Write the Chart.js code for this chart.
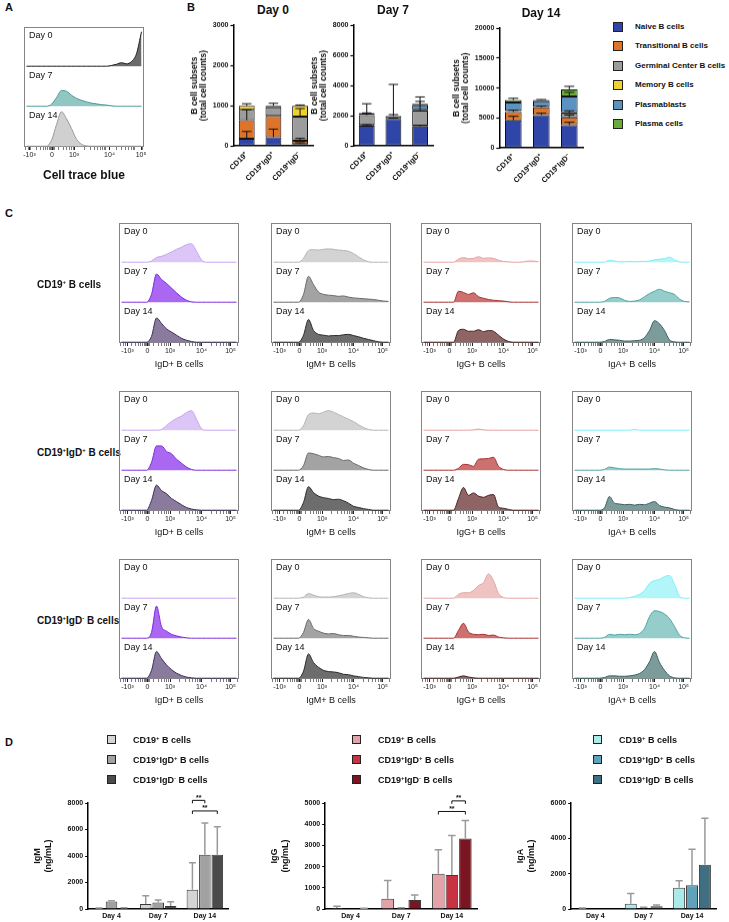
<!DOCTYPE html>
<html>
<head>
<meta charset="utf-8">
<title>B cell subsets and immunoglobulin secretion</title>
<script src="https://cdn.jsdelivr.net/npm/chart.js@4.4.1/dist/chart.umd.min.js"></script>
<style>
  body { margin: 0; background: #fff; }
  #fig { position: relative; width: 729px; height: 922px; overflow: hidden; font-family: "Liberation Sans", Arial, sans-serif; color: #111; }
  #fig canvas { position: absolute; }
  .t { position: absolute; white-space: nowrap; line-height: 1; }
  .panel { font-size: 11px; font-weight: bold; }
  .box { position: absolute; border: 1px solid #858585; box-sizing: border-box; }
  .day { font-size: 9px; }
  .mk { font-size: 9px; transform: translateX(-50%); }
  .row { font-size: 10px; font-weight: bold; transform: translateY(-50%); }
  .sw { position: absolute; width: 9px; height: 9px; border: 1px solid #222; box-sizing: border-box; }
  .lg { font-size: 9px; font-weight: bold; transform: translateY(-50%); }
  .lgb { font-size: 8px; font-weight: bold; transform: translateY(-50%); }
  .ttl { font-size: 12px; font-weight: bold; transform: translateX(-50%); }
  .big { font-size: 12px; font-weight: bold; transform: translateX(-50%); }
  sup { font-size: 6px; vertical-align: top; position: relative; top: -1px; }
</style>
</head>
<body>
<div id="fig"></div>
<script>
// ---- histogram bins and axis ticks (flow cytometry panels A and C) ----
const BINS = [0, 1, 2, 3, 4, 5, 6, 7, 8, 9, 10, 11, 12, 13, 14, 15, 16, 17, 18, 19, 20, 21, 22, 23];
const DAYS = ['Day 0', 'Day 7', 'Day 14'];
const TICK_LABELS = ['-10³', '0', '10³', '10⁴', '10⁵'];
const C_TICKS = [1.2, 5.2, 9.7, 16.0, 21.8];
const A_TICKS = [0.6, 5.1, 9.5, 16.6, 22.9];
const MINOR_TICKS = [-0.2, 0.3, 0.7, 2.0, 2.7, 3.3, 3.8, 4.2, 4.5, 4.7, 4.9, 5.4, 5.6, 6.4, 7.3, 8.0, 8.5, 8.9, 9.3,
  11.6, 12.8, 13.6, 14.2, 14.7, 15.1, 15.5, 15.8, 17.9, 19.0, 19.8, 20.4, 20.9, 21.3, 21.6, 23.2];

// panel A: cell trace blue
const TRACE_BLUE = [
  [0, 0, 0, 0, 0, 0, 0, 0, 0, 0, 0, 0, 0, 0, 0, 0, 0, 2, 5, 9, 6, 12, 32, 88],
  [0, 0, 0, 0, 0, 5, 22, 40, 38, 28, 20, 15, 11, 8, 6, 4, 3, 1, 0, 0, 0, 0, 0, 0],
  [0, 0, 0, 0, 0, 15, 55, 88, 70, 45, 18, 5, 1, 0, 0, 0, 0, 0, 0, 0, 0, 0, 0, 0]
];

// panel C, CD19+ B cells (Day 0, Day 7, Day 14)
const CD19_IgD = [
  [0, 0, 0, 0, 0, 0, 3, 12, 15, 20, 26, 33, 38, 45, 47, 28, 6, 0, 0, 0, 0, 0, 0, 0],
  [0, 0, 0, 0, 0, 0, 20, 72, 58, 48, 36, 24, 13, 5, 1, 0, 0, 0, 0, 0, 0, 0, 0, 0],
  [0, 0, 0, 0, 0, 0, 15, 62, 48, 34, 26, 18, 10, 5, 2, 0, 0, 0, 0, 0, 0, 0, 0, 0]
];
const CD19_IgM = [
  [0, 0, 0, 0, 0, 0, 10, 30, 32, 31, 33, 34, 33, 31, 30, 28, 22, 14, 6, 1, 0, 0, 0, 0],
  [0, 0, 0, 0, 0, 0, 20, 66, 45, 26, 20, 18, 17, 15, 16, 13, 11, 10, 9, 8, 7, 5, 3, 2],
  [0, 0, 0, 0, 0, 0, 18, 58, 30, 20, 18, 16, 17, 17, 19, 20, 17, 14, 10, 7, 4, 1, 0, 0]
];
const CD19_IgG = [
  [0, 0, 0, 0, 0, 0, 0, 8, 12, 9, 10, 14, 10, 11, 10, 5, 2, 1, 0, 0, 1, 3, 3, 1],
  [0, 0, 0, 0, 0, 0, 0, 28, 25, 20, 24, 14, 10, 7, 5, 4, 3, 1, 0, 0, 0, 0, 0, 0],
  [0, 0, 0, 0, 0, 0, 0, 30, 33, 28, 28, 32, 27, 30, 28, 18, 8, 2, 0, 0, 0, 0, 0, 0]
];
const CD19_IgA = [
  [0, 0, 0, 0, 0, 0, 0, 5, 3, 1, 1, 2, 1, 2, 2, 3, 6, 8, 9, 13, 6, 1, 0, 0],
  [0, 0, 0, 0, 0, 0, 2, 10, 12, 11, 5, 2, 3, 6, 14, 22, 28, 33, 28, 24, 20, 8, 2, 1],
  [0, 0, 0, 0, 0, 0, 2, 7, 6, 5, 3, 3, 4, 5, 12, 30, 55, 47, 30, 6, 1, 0, 0, 0]
];

// panel C, CD19+IgD+ B cells
const POS_IgD = [
  [0, 0, 0, 0, 0, 0, 0, 0, 2, 12, 22, 30, 36, 45, 50, 28, 4, 0, 0, 0, 0, 0, 0, 0],
  [0, 0, 0, 0, 0, 0, 20, 62, 62, 48, 42, 28, 18, 8, 2, 0, 0, 0, 0, 0, 0, 0, 0, 0],
  [0, 0, 0, 0, 0, 0, 25, 64, 50, 42, 30, 22, 14, 7, 3, 1, 0, 0, 0, 0, 0, 0, 0, 0]
];
const POS_IgM = [
  [0, 0, 0, 0, 0, 0, 12, 40, 44, 42, 46, 50, 46, 40, 34, 28, 22, 14, 7, 2, 0, 0, 0, 0],
  [0, 0, 0, 0, 0, 0, 12, 44, 42, 38, 34, 35, 32, 30, 25, 26, 18, 12, 6, 2, 0, 0, 0, 0],
  [0, 0, 0, 0, 0, 0, 20, 60, 45, 36, 32, 30, 27, 28, 24, 18, 10, 7, 4, 2, 0, 0, 0, 0]
];
const POS_IgG = [
  [0, 0, 0, 0, 0, 0, 0, 0, 0, 0, 1, 3, 1, 0, 0, 0, 0, 0, 0, 0, 0, 0, 0, 0],
  [0, 0, 0, 0, 0, 0, 0, 5, 15, 14, 10, 28, 29, 30, 33, 10, 2, 0, 0, 0, 0, 0, 0, 0],
  [0, 0, 0, 0, 0, 0, 0, 30, 58, 38, 44, 36, 33, 38, 40, 8, 5, 2, 0, 0, 0, 0, 0, 0]
];
const POS_IgA = [
  [0, 0, 0, 0, 0, 0, 0, 0, 0, 0, 0, 0, 2, 0, 0, 0, 0, 0, 0, 0, 0, 0, 0, 0],
  [0, 0, 0, 0, 0, 0, 2, 8, 6, 4, 3, 3, 3, 3, 3, 3, 4, 3, 1, 0, 0, 0, 0, 0],
  [0, 0, 0, 0, 0, 0, 6, 35, 18, 16, 14, 15, 13, 15, 14, 18, 22, 12, 8, 6, 2, 0, 0, 0]
];

// panel C, CD19+IgD- B cells
const NEG_IgD = [
  [0, 0, 0, 0, 0, 0, 0, 0, 0, 0, 0, 0, 0, 0, 0, 0, 0, 0, 0, 0, 0, 0, 0, 0],
  [0, 0, 0, 0, 0, 0, 15, 82, 30, 18, 10, 6, 3, 1, 0, 0, 0, 0, 0, 0, 0, 0, 0, 0],
  [0, 0, 0, 0, 0, 0, 20, 68, 50, 34, 22, 13, 7, 3, 1, 0, 0, 0, 0, 0, 0, 0, 0, 0]
];
const NEG_IgM = [
  [0, 0, 0, 0, 0, 0, 3, 12, 8, 4, 3, 3, 4, 6, 9, 12, 14, 10, 4, 1, 0, 0, 0, 0],
  [0, 0, 0, 0, 0, 0, 15, 48, 25, 18, 13, 11, 12, 9, 7, 7, 5, 3, 2, 1, 0, 0, 0, 0],
  [0, 0, 0, 0, 0, 0, 18, 62, 40, 28, 20, 17, 16, 14, 10, 9, 6, 4, 2, 1, 0, 0, 0, 0]
];
const NEG_IgG = [
  [0, 0, 0, 0, 0, 0, 0, 10, 14, 14, 20, 32, 40, 62, 45, 12, 2, 0, 0, 0, 0, 0, 0, 0],
  [0, 0, 0, 0, 0, 0, 0, 20, 38, 16, 10, 9, 10, 7, 8, 3, 1, 0, 0, 0, 0, 0, 0, 0],
  [0, 0, 0, 0, 0, 0, 0, 3, 6, 3, 1, 0, 0, 0, 0, 0, 0, 0, 0, 0, 0, 0, 0, 0]
];
const NEG_IgA = [
  [0, 0, 0, 0, 0, 0, 0, 0, 0, 0, 0, 2, 5, 10, 20, 38, 45, 48, 55, 58, 35, 5, 0, 0],
  [0, 0, 0, 0, 0, 0, 2, 10, 8, 10, 9, 10, 9, 12, 25, 55, 70, 68, 62, 50, 30, 8, 1, 0],
  [0, 0, 0, 0, 0, 0, 2, 6, 6, 5, 5, 6, 8, 12, 22, 42, 68, 40, 20, 6, 1, 0, 0, 0]
];

// ---- panel B: stacked subsets (rows = subsets, cols = populations) ----
const B_GROUPS = ['CD19⁺', 'CD19⁺IgD⁺', 'CD19⁺IgD⁻'];
const SUBSETS = ['Naive B cells', 'Transitional B cells', 'Germinal Center B cells', 'Memory B cells', 'Plasmablasts', 'Plasma cells'];
const DAY0_COUNTS = [[180, 220, 50], [460, 530, 80], [260, 210, 600], [100, 40, 270], [0, 0, 0], [0, 0, 0]];
const DAY0_SD = [[180, 200, 30], [260, 0, 60], [0, 0, 200], [50, 60, 20], [0, 0, 0], [0, 0, 0]];
const DAY7_COUNTS = [[1350, 1800, 1300], [40, 30, 50], [650, 150, 1000], [30, 10, 50], [100, 30, 300], [30, 10, 100]];
const DAY7_SD = [[60, 50, 80], [0, 0, 0], [150, 100, 600], [0, 0, 0], [0, 0, 0], [600, 2050, 450]];
const DAY14_COUNTS = [[4600, 5500, 3800], [1400, 1300, 1300], [150, 100, 600], [50, 0, 300], [1400, 900, 2600], [400, 200, 1200]];
const DAY14_SD = [[700, 300, 500], [300, 200, 400], [0, 0, 500], [0, 0, 0], [0, 0, 700], [300, 100, 500]];

// ---- panel D: secreted immunoglobulin (rows = populations, cols = days) ----
const D_DAYS = ['Day 4', 'Day 7', 'Day 14'];
const D_GROUPS = ['CD19<sup>+</sup> B cells', 'CD19<sup>+</sup>IgD<sup>+</sup> B cells', 'CD19<sup>+</sup>IgD<sup>-</sup> B cells'];
const IGM_MEAN = [[60, 380, 1450], [560, 500, 4100], [60, 220, 4100]];
const IGM_SD = [[20, 620, 2050], [60, 180, 2400], [30, 330, 2100]];
const IGG_MEAN = [[50, 480, 1660], [0, 20, 1600], [30, 430, 3330]];
const IGG_SD = [[80, 860, 1140], [0, 40, 1870], [10, 230, 850]];
const IGA_MEAN = [[30, 300, 1200], [0, 40, 1350], [0, 150, 2500]];
const IGA_SD = [[20, 580, 400], [0, 60, 2030], [0, 80, 2630]];
const IGM_SIG = [{ from: 0, to: 1, at: 2, y: 8200, text: '**' }, { from: 0, to: 2, at: 2, y: 7400, text: '**' }];
const IGG_SIG = [{ from: 1, to: 2, at: 2, y: 5100, text: '**' }, { from: 0, to: 2, at: 2, y: 4600, text: '**' }];

// ---- colours ----
const SUBSET_COLORS = ['#2f46a8', '#dd7429', '#9c9c9c', '#f1d12c', '#5a93c2', '#6aab3b'];
const A_COLORS = [['#6b6b6b', '#1e1e1e'], ['#91c6c2', '#4c9c98'], ['#d0d0d0', '#9a9a9a']];
const IGD_COLORS = [['#dcc6f7', '#c7a3f0'], ['#a967f2', '#7d2ee0'], ['#8a7a9e', '#3e2f58']];
const IGM_COLORS = [['#d3d3d3', '#b5b5b5'], ['#a3a3a3', '#6a6a6a'], ['#6d6d6d', '#2c2c2c']];
const IGG_COLORS = [['#f0c3c3', '#e6a3a3'], ['#cc7070', '#a83232'], ['#8f6464', '#4a2424']];
const IGA_COLORS = [['#b3f6fa', '#7eeef5'], ['#95cdca', '#4fa5a1'], ['#7c9c9b', '#3a6260']];
const D_IGM = ['#d4d4d4', '#a1a1a1', '#4b4b4b'];
const D_IGG = ['#e2a2a8', '#c83242', '#7b1522'];
const D_IGA = ['#aaeaea', '#5fa2ba', '#3f6f81'];

Chart.defaults.font.family = '"Liberation Sans", Arial, sans-serif';
Chart.defaults.color = '#111';
Chart.defaults.animation = false;

const fig = document.getElementById('fig');
const ROW_H = 40, AXIS_H = 16, SIDE = 10;

function text(x, y, html, cls) {
  const d = document.createElement('div');
  d.className = 't ' + cls;
  d.style.left = x + 'px';
  d.style.top = y + 'px';
  d.innerHTML = html;
  fig.appendChild(d);
  return d;
}

function canvas(x, y, w, h) {
  const c = document.createElement('canvas');
  c.width = w; c.height = h;
  c.style.left = x + 'px'; c.style.top = y + 'px';
  c.style.width = w + 'px'; c.style.height = h + 'px';
  fig.appendChild(c);
  return c;
}

// resize a chart so its plot area has the wanted size, then move it in place
function fitArea(chart, left, top, w, h) {
  const a = chart.chartArea;
  chart.resize(chart.width - (a.right - a.left) + w, chart.height - (a.bottom - a.top) + h);
  const b = chart.chartArea;
  chart.canvas.style.left = (left - b.left) + 'px';
  chart.canvas.style.top = (top - b.top) + 'px';
}

const plainNumber = v => String(v);

function ridge(x, y, w, values, colors, ticksAt) {
  const axis = !!ticksAt;
  // the axis row gets extra room at the sides so edge tick labels are not cut
  const c = axis ? canvas(x - SIDE, y, w + 2 * SIDE, ROW_H + AXIS_H) : canvas(x, y, w, ROW_H);
  const xScale = { type: 'linear', min: -0.5, max: 23.5, display: axis };
  if (axis) {
    Object.assign(xScale, {
      border: { display: false },
      grid: { drawOnChartArea: false, tickLength: 3, tickColor: '#222', tickWidth: ctx => ctx.index < 5 ? 1 : 0.6 },
      afterBuildTicks: s => { s.ticks = ticksAt.concat(MINOR_TICKS).map(v => ({ value: v })); },
      afterFit: s => { s.height = AXIS_H; s.paddingLeft = 0; s.paddingRight = 0; },
      ticks: { autoSkip: false, maxRotation: 0, minRotation: 0, padding: 1, font: { size: 7 }, color: '#222',
        callback: (v, i) => i < TICK_LABELS.length ? TICK_LABELS[i] : '' }
    });
  }
  new Chart(c, {
    type: 'line',
    data: {
      labels: BINS,
      datasets: [{ data: values, fill: 'origin', backgroundColor: colors[0], borderColor: colors[1],
        borderWidth: 1, pointRadius: 0, cubicInterpolationMode: 'monotone' }]
    },
    options: {
      responsive: false, animation: false, events: [],
      layout: { padding: axis ? { left: SIDE, right: SIDE } : 0 },
      plugins: { legend: { display: false }, tooltip: { enabled: false } },
      scales: { x: xScale, y: { display: false, min: -2, max: 100 } }
    }
  });
}

function histoBox(x, y, w, sets, colors, ticksAt, axisLabel) {
  const box = document.createElement('div');
  box.className = 'box';
  Object.assign(box.style, { left: x + 'px', top: y + 'px', width: w + 'px', height: (ROW_H * 3) + 'px' });
  fig.appendChild(box);
  sets.forEach((vals, d) => {
    ridge(x, y + ROW_H * d, w, vals, colors[d], d === 2 ? ticksAt : null);
    text(x + 5, y + ROW_H * d + 4, DAYS[d], 'day');
  });
  if (axisLabel) text(x + w / 2, y + 137, axisLabel, 'mk');
}

function errorPlugin(sds, stacked, color, width, brackets) {
  return {
    id: 'errs',
    afterDatasetsDraw(chart) {
      const ctx = chart.ctx, y = chart.scales.y;
      ctx.save();
      ctx.strokeStyle = color; ctx.lineWidth = width;
      chart.data.datasets.forEach((ds, d) => {
        const bars = chart.getDatasetMeta(d).data;
        ds.data.forEach((v, j) => {
          const sd = sds[d][j];
          if (!sd) return;
          let top = v;
          if (stacked) { top = 0; for (let k = 0; k <= d; k++) top += chart.data.datasets[k].data[j]; }
          const bar = bars[j];
          const y0 = y.getPixelForValue(top), y1 = y.getPixelForValue(top + sd);
          const half = bar.width * 0.3;
          ctx.beginPath();
          ctx.moveTo(bar.x, y0); ctx.lineTo(bar.x, y1);
          ctx.moveTo(bar.x - half, y1); ctx.lineTo(bar.x + half, y1);
          ctx.stroke();
        });
      });
      brackets.forEach(b => {
        const x1 = chart.getDatasetMeta(b.from).data[b.at].x;
        const x2 = chart.getDatasetMeta(b.to).data[b.at].x;
        const yy = y.getPixelForValue(b.y);
        ctx.strokeStyle = '#111'; ctx.lineWidth = 1;
        ctx.beginPath();
        ctx.moveTo(x1, yy + 3); ctx.lineTo(x1, yy); ctx.lineTo(x2, yy); ctx.lineTo(x2, yy + 3);
        ctx.stroke();
        ctx.fillStyle = '#111';
        ctx.font = 'bold 7px "Liberation Sans", Arial';
        ctx.textAlign = 'center'; ctx.textBaseline = 'bottom';
        ctx.fillText(b.text, (x1 + x2) / 2, yy + 1);
      });
      ctx.restore();
    }
  };
}

function axisFont(size) { return { size: size || 7, weight: 'bold' }; }

function stackedDay(title, counts, sds, yMax, yStep, area, titleY) {
  const chart = new Chart(canvas(0, 0, 170, 200), {
    type: 'bar',
    data: {
      labels: B_GROUPS,
      datasets: SUBSETS.map((name, i) => ({ label: name, data: counts[i], backgroundColor: SUBSET_COLORS[i],
        borderColor: '#111', borderWidth: 1, borderSkipped: false }))
    },
    options: {
      responsive: false, maintainAspectRatio: false, animation: false, events: [],
      datasets: { bar: { categoryPercentage: 0.9, barPercentage: 0.66 } },
      layout: { padding: { top: 6, right: 4 } },
      plugins: { legend: { display: false }, tooltip: { enabled: false } },
      scales: {
        x: { stacked: true, grid: { display: false, drawTicks: false }, border: { color: '#000', width: 1.5 },
          ticks: { font: axisFont(7.5), color: '#111', minRotation: 45, maxRotation: 45, autoSkip: false, padding: 4 } },
        y: { stacked: true, min: 0, max: yMax, border: { color: '#000', width: 1.5 },
          grid: { drawOnChartArea: false, tickLength: 3, tickColor: '#000', tickWidth: 1.2 },
          ticks: { stepSize: yStep, font: axisFont(), color: '#111', padding: 2, callback: plainNumber },
          title: { display: true, text: ['B cell subsets', '(total cell counts)'],
            font: { size: 8.5, weight: 'bold', lineHeight: 1.05 }, color: '#111', padding: { top: 0, bottom: 3 } } }
      }
    },
    plugins: [errorPlugin(sds, true, '#111', 1, [])]
  });
  fitArea(chart, area[0], area[1], area[2], area[3]);
  text(area[0] + area[2] / 2, titleY, title, 'ttl');
}

function igChart(yTitle, means, sds, colors, yMax, yStep, brackets, area, legendX) {
  const chart = new Chart(canvas(0, 0, 240, 170), {
    type: 'bar',
    data: {
      labels: D_DAYS,
      datasets: means.map((m, i) => ({ data: m, backgroundColor: colors[i], borderColor: '#3a3a3a', borderWidth: 1 }))
    },
    options: {
      responsive: false, maintainAspectRatio: false, animation: false, events: [],
      datasets: { bar: { categoryPercentage: 0.8, barPercentage: 0.93 } },
      layout: { padding: { top: 22, right: 4 } },
      plugins: { legend: { display: false }, tooltip: { enabled: false } },
      scales: {
        x: { grid: { display: false, drawTicks: false }, border: { color: '#000', width: 1.5 },
          ticks: { font: axisFont(), color: '#111', padding: 3, maxRotation: 0 } },
        y: { min: 0, max: yMax, border: { color: '#000', width: 1.5 },
          grid: { drawOnChartArea: false, tickLength: 3, tickColor: '#000', tickWidth: 1.2 },
          ticks: { stepSize: yStep, font: axisFont(), color: '#111', padding: 2, callback: plainNumber },
          title: { display: true, text: [yTitle, '(ng/mL)'], font: { size: 9, weight: 'bold' },
            color: '#111', padding: { top: 0, bottom: 12 } } }
      }
    },
    plugins: [errorPlugin(sds, false, '#9a9a9a', 1.5, brackets)]
  });
  fitArea(chart, area[0], area[1], area[2], area[3]);
  D_GROUPS.forEach((g, i) => {
    const sw = document.createElement('div');
    sw.className = 'sw';
    Object.assign(sw.style, { left: legendX + 'px', top: (735 + 20 * i) + 'px', background: colors[i] });
    fig.appendChild(sw);
    text(legendX + 26, 740 + 20 * i, g, 'lg');
  });
}

// ---- panel letters ----
text(5, 2, 'A', 'panel');
text(187, 2, 'B', 'panel');
text(5, 208, 'C', 'panel');
text(5, 737, 'D', 'panel');

// ---- panel A ----
histoBox(24, 27, 120, TRACE_BLUE, A_COLORS, A_TICKS, null);
text(84, 169, 'Cell trace blue', 'big');

// ---- panel B ----
stackedDay('Day 0', DAY0_COUNTS, DAY0_SD, 3000, 1000, [233, 25, 80, 120], 4);
stackedDay('Day 7', DAY7_COUNTS, DAY7_SD, 8000, 2000, [353, 25, 80, 120], 4);
stackedDay('Day 14', DAY14_COUNTS, DAY14_SD, 20000, 5000, [499, 28, 84, 119], 7);
SUBSETS.forEach((name, i) => {
  const sw = document.createElement('div');
  sw.className = 'sw';
  Object.assign(sw.style, { left: '613px', top: (22 + 19.4 * i) + 'px', width: '10px', height: '10px', background: SUBSET_COLORS[i] });
  fig.appendChild(sw);
  text(635, 27 + 19.4 * i, name, 'lgb');
});

// ---- panel C ----
const COL_X = [119, 271, 421, 572];
const ROW_Y = [223, 391, 559];
const ROW_NAMES = ['CD19<sup>+</sup> B cells', 'CD19<sup>+</sup>IgD<sup>+</sup> B cells', 'CD19<sup>+</sup>IgD<sup>-</sup> B cells'];
const MARKERS = ['IgD+ B cells', 'IgM+ B cells', 'IgG+ B cells', 'IgA+ B cells'];
const MARKER_COLORS = [IGD_COLORS, IGM_COLORS, IGG_COLORS, IGA_COLORS];
const C_DATA = [
  [CD19_IgD, CD19_IgM, CD19_IgG, CD19_IgA],
  [POS_IgD, POS_IgM, POS_IgG, POS_IgA],
  [NEG_IgD, NEG_IgM, NEG_IgG, NEG_IgA]
];
ROW_Y.forEach((y, r) => {
  text(37, y + 62, ROW_NAMES[r], 'row');
  COL_X.forEach((x, k) => histoBox(x, y, 120, C_DATA[r][k], MARKER_COLORS[k], C_TICKS, MARKERS[k]));
});

// ---- panel D ----
igChart('IgM', IGM_MEAN, IGM_SD, D_IGM, 8000, 2000, IGM_SIG, [88, 803, 140, 106], 107);
igChart('IgG', IGG_MEAN, IGG_SD, D_IGG, 5000, 1000, IGG_SIG, [325, 803, 152, 106], 352);
igChart('IgA', IGA_MEAN, IGA_SD, D_IGA, 6000, 2000, [], [571, 803, 145, 106], 593);
</script>
</body>
</html>
